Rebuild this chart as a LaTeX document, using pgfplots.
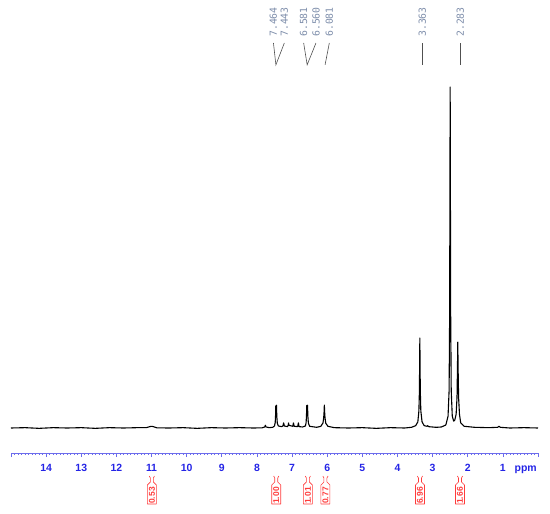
\documentclass[border=0pt]{standalone}
\usepackage{pgfplots}
\pgfplotsset{compat=1.18}
\usepackage{fontspec}
\setmainfont{Liberation Sans}
\newfontfamily\monof{DejaVu Sans Mono}
\definecolor{axblue}{HTML}{2424E6}
\definecolor{lineblue}{HTML}{6C6CEC}
\definecolor{intred}{HTML}{FF3B3B}
\definecolor{pklab}{HTML}{7D8DAA}
\definecolor{pkline}{HTML}{505050}

% integral tag below the axis: #1 = coordinate on the axis line, #2 = value
\newcommand{\integ}[2]{%
  \draw[intred, line width=0.6bp, line join=round]
    ([shift={(-2.6bp,-23bp)}]#1) -- ++(1.1bp,-2bp) -- ++(0,-4bp)
    -- ++(-3bp,-3bp) -- ++(0,-19bp) -- ++(9bp,0) -- ++(0,19bp) -- ++(-3bp,3bp)
    -- ++(0,4bp) -- ++(1.1bp,2bp);
  \node[intred, rotate=90, inner sep=0pt, font=\fontsize{8.5}{9}\selectfont\bfseries]
    at ([yshift=-42.5bp]#1) {#2};
}
% peak label: #1 = label position (ppm), #2 = text
\newcommand{\pk}[2]{%
  \node[pklab, rotate=90, anchor=west, inner sep=0pt, font=\monof\fontsize{9.8}{11}\selectfont]
    at (axis cs:#1,114.7) {#2};
}

\begin{document}
\begin{tikzpicture}
\useasboundingbox (0,0) rectangle (550bp,514bp);
\begin{axis}[
    at={(11bp,61bp)}, anchor=south west,
    scale only axis, width=527bp, height=366bp,
    x dir=reverse,
    xmin=0, xmax=15, ymin=-7.33, ymax=100,
    axis x line=bottom, hide y axis,
    x axis line style={lineblue, line width=0.8bp, -},
    xtick={0,1,2,3,4,5,6,7,8,9,10,11,12,13,14,15},
    xticklabels={,1,2,3,4,5,6,7,8,9,10,11,12,13,14,},
    minor xtick={0,0.1,...,15},
    tick align=outside,
    major tick length=4bp, minor tick length=2bp,
    tick style={lineblue, line width=0.6bp},
    /pgf/number format/assume math mode=true,
    xticklabel style={font=\fontsize{10.5}{12}\selectfont\bfseries, text=axblue,
      text height=7.5bp, text depth=2.3bp, yshift=-3.2bp},
    extra x ticks={0.35}, extra x tick labels={ppm},
    extra x tick style={major tick length=0pt, xticklabel style={yshift=-4bp}},
    clip=false,
  ]
  \addplot[black, line width=1.1bp, line join=round] coordinates {
    (15.0,0) (14.6,0.1) (14.2,-0.1) (13.8,0.1) (13.4,0) (13.0,0.1) (12.6,-0.1)
    (12.2,0.1) (11.8,0) (11.4,0.1) (11.15,0.1) (11.05,0.4) (11.0,0.5) (10.95,0.4)
    (10.85,0.05) (10.5,0) (10.1,0.1) (9.7,-0.1) (9.3,0.1) (8.9,0) (8.5,0.1) (8.1,0)
    (7.85,0.05) (7.78,0.3) (7.76,0.8) (7.74,0.3) (7.65,0.1) (7.55,0.2) (7.50,0.6)
    (7.48,1.6) (7.47,3.6) (7.464,6.5) (7.455,4.5) (7.45,4.6) (7.443,6.7) (7.435,3.5)
    (7.42,1.4) (7.39,0.6) (7.3,0.4) (7.26,0.6) (7.24,1.5) (7.22,0.6) (7.13,0.4)
    (7.11,0.8) (7.10,1.5) (7.09,0.8) (6.98,0.5) (6.96,1.5) (6.94,0.5) (6.84,0.4)
    (6.82,1.5) (6.80,0.4) (6.7,0.3) (6.62,0.6) (6.60,1.6) (6.59,3.5) (6.581,6.6)
    (6.572,4.5) (6.568,4.5) (6.560,6.7) (6.55,3.4) (6.535,1.4) (6.5,0.5) (6.3,0.2)
    (6.18,0.5) (6.12,1.5) (6.10,3) (6.09,4.5) (6.081,6.7) (6.07,4.2) (6.06,2.8)
    (6.04,1.4) (5.98,0.5) (5.8,0.1) (5.4,0) (5.0,0.1) (4.6,-0.1) (4.2,0.1) (3.8,0)
    (3.6,0.2) (3.48,0.7) (3.42,1.8) (3.39,5) (3.375,11) (3.363,26.4) (3.35,11)
    (3.335,5) (3.30,1.8) (3.24,0.7) (3.16,0.5) (3.14,0.7) (3.12,0.4) (2.9,0.2)
    (2.75,0.3) (2.64,0.8) (2.62,1.0) (2.56,3.5) (2.53,11) (2.515,33) (2.50,100)
    (2.485,33) (2.47,11) (2.44,3.5) (2.40,2.0) (2.37,2.3) (2.33,4) (2.305,9)
    (2.293,17) (2.283,25.2) (2.273,17) (2.26,9) (2.235,4) (2.20,1.5) (2.10,0.5)
    (1.8,0.2) (1.4,0.1) (1.15,0.2) (1.11,0.5) (1.07,0.2) (0.8,0) (0.4,0.1) (0.0,0)
  };

  % peak labels
  \pk{7.53}{7.464}
  \pk{7.22}{7.443}
  \pk{6.67}{6.581}
  \pk{6.32}{6.560}
  \pk{5.94}{6.081}
  \pk{3.29}{3.363}
  \pk{2.21}{2.283}
  \draw[pkline, line width=0.6bp] (axis cs:7.53,112.9) -- (axis cs:7.46,106.5) -- (axis cs:7.22,112.9);
  \draw[pkline, line width=0.6bp] (axis cs:6.67,112.9) -- (axis cs:6.57,106.5) -- (axis cs:6.32,112.9);
  \draw[pkline, line width=0.6bp] (axis cs:5.94,112.9) -- (axis cs:6.06,106.5);
  \draw[pkline, line width=0.6bp] (axis cs:3.29,112.9) -- (axis cs:3.29,106.5);
  \draw[pkline, line width=0.6bp] (axis cs:2.21,112.9) -- (axis cs:2.21,106.5);

  % integral positions on the axis line
  \coordinate (i1) at (axis cs:10.99,-7.33);
  \coordinate (i2) at (axis cs:7.45,-7.33);
  \coordinate (i3) at (axis cs:6.55,-7.33);
  \coordinate (i4) at (axis cs:6.05,-7.33);
  \coordinate (i5) at (axis cs:3.36,-7.33);
  \coordinate (i6) at (axis cs:2.22,-7.33);
\end{axis}
\integ{i1}{0.53}
\integ{i2}{1.00}
\integ{i3}{1.01}
\integ{i4}{0.77}
\integ{i5}{6.96}
\integ{i6}{1.66}
\end{tikzpicture}
\end{document}
